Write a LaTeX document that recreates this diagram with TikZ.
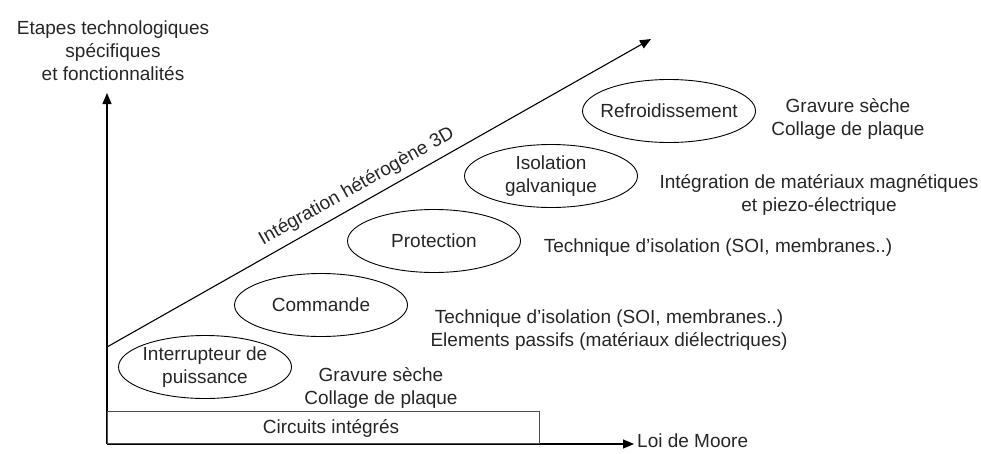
\documentclass[tikz,border=0pt]{standalone}
\usepackage{fontspec}
\setmainfont{Liberation Sans}
\usetikzlibrary{arrows.meta,shapes.geometric}
\begin{document}
\begin{tikzpicture}[x=1pt,y=-1pt,
  txt/.style={font=\fontsize{19}{23}\selectfont, align=center, inner sep=0pt, text=black!85},
  ell/.style={draw, ellipse, line width=0.9pt, minimum width=173pt, minimum height=63pt, inner sep=0pt},
  axis/.style={line width=1.1pt, -{Triangle[length=11pt,width=9pt]}}]
\useasboundingbox (0,0) rectangle (981,453);
% title
\node[txt] (title) at (113,51) {Etapes technologiques\\spécifiques\\et fonctionnalités};
% axes
\coordinate (o) at (107,444);
\coordinate (ytop) at (107,93);
\coordinate (xend) at (634,444);
\draw[axis] (o) -- (ytop);
\draw[axis] (o) -- (xend);
\node[txt, anchor=west] (moore) at (637,441) {Loi de Moore};
% circuits integres box
\node[draw=black!70, line width=1pt, minimum width=432pt, minimum height=32pt, anchor=south west, inner sep=0pt] (ci) at (107,444) {};
\node[txt] (citxt) at (331,428) {Circuits intégrés};
% diagonal
\coordinate (d0) at (107,347);
\coordinate (d1) at (651,39);
\draw[axis] (d0) -- (d1) node[txt, pos=0.474, sloped, above=7pt] (integ) {Intégration hétérogène 3D};
% ellipses
\node[ell] (e1) at (205,367) {};
\node[ell] (e2) at (321,305) {};
\node[ell] (e3) at (434,241) {};
\node[ell] (e4) at (551,176) {};
\node[ell] (e5) at (669,111) {};
\node[txt] at (e1) {Interrupteur de\\puissance};
\node[txt] at (e2) {Commande};
\node[txt] at (e3) {Protection};
\node[txt] at (e4) {Isolation\\galvanique};
\node[txt] at (e5) {Refroidissement};
% descriptions
\node[txt] (t1) at (381,388) {Gravure sèche\\Collage de plaque};
\node[txt] (t2) at (609,330) {Technique d'isolation (SOI, membranes..)\\Elements passifs (matériaux diélectriques)};
\node[txt] (t3) at (718,248) {Technique d'isolation (SOI, membranes..)};
\node[txt] (t4) at (819,195) {Intégration de matériaux magnétiques\\et piezo-électrique};
\node[txt] (t5) at (848,119) {Gravure sèche\\Collage de plaque};
\end{tikzpicture}
\end{document}
